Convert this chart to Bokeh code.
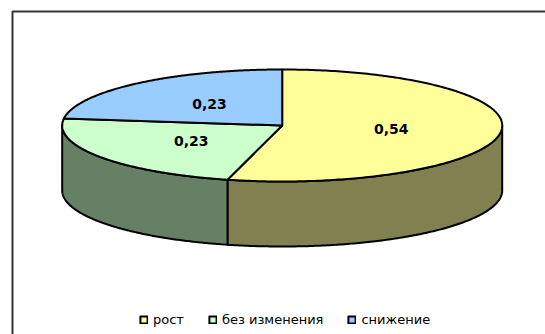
import numpy as np
from bokeh.plotting import figure
from bokeh.models import Range1d, Legend, LegendItem
from bokeh.core.properties import value
from bokeh.embed import file_html
from bokeh.resources import INLINE

# Survey shares
categories = ["рост", "без изменения", "снижение"]
shares = [0.54, 0.23, 0.23]

top_colors = ["#FFFF99", "#CCFFCC", "#99CCFF"]
side_colors = ["#808050", "#668066", "#4D6680"]

W, H = 545, 334
# 3D pie geometry (pixels, y grows downward)
CX, CY = 281.7, 125.0
RX, RY = 220.0, 56.0
DEPTH = 65.0
FONT = "DejaVu Sans"


def rim(t_deg):
    """Point on the top ellipse; angle measured clockwise from 12 o'clock."""
    t = np.radians(t_deg)
    return CX + RX * np.sin(t), CY - RY * np.cos(t)


p = figure(width=W, height=H, x_range=Range1d(0, W), y_range=Range1d(H, 0),
           output_backend="svg", toolbar_location=None, min_border=0,
           x_axis_location=None, y_axis_location=None)
p.grid.visible = False
p.outline_line_color = None
p.background_fill_color = "white"
p.border_fill_color = "white"

# chart-area frame
p.quad(left=12, right=W + 20, top=11, bottom=H + 20, fill_color=None,
       line_color="#333333", line_width=2)

total = sum(shares)
bounds = np.concatenate([[0.0], np.cumsum(shares) / total * 360.0])

# visible front walls (lower half of the cylinder)
side_xs, side_ys, side_fill = [], [], []
for i in range(len(shares)):
    a, b = max(bounds[i], 90.0), min(bounds[i + 1], 270.0)
    if b <= a:
        continue
    t = np.linspace(a, b, 160)
    x, y = rim(t)
    side_xs.append(np.concatenate([x, x[::-1]]).tolist())
    side_ys.append(np.concatenate([y, (y + DEPTH)[::-1]]).tolist())
    side_fill.append(side_colors[i])
p.patches(side_xs, side_ys, fill_color=side_fill, line_color="black",
          line_width=2, line_join="round")

# top faces
top_xs, top_ys = [], []
for i in range(len(shares)):
    t = np.linspace(bounds[i], bounds[i + 1], 240)
    x, y = rim(t)
    top_xs.append([CX] + x.tolist())
    top_ys.append([CY] + y.tolist())
top = p.patches(top_xs, top_ys, fill_color=top_colors, line_color="black",
                line_width=2, line_join="round")

# value labels at half radius on each slice
mid = np.radians((bounds[:-1] + bounds[1:]) / 2)
lx = (CX + 0.5 * RX * np.sin(mid)).tolist()
ly = (CY - 0.5 * RY * np.cos(mid)).tolist()
labels = [f"{v:.2f}".replace(".", ",") for v in shares]
p.text(lx, ly, text=labels, text_font=value(FONT), text_font_style="bold",
       text_font_size="14px", text_align="center", text_baseline="middle",
       text_color="black")

legend = Legend(
    items=[LegendItem(label=c, renderers=[top], index=i) for i, c in enumerate(categories)],
    orientation="horizontal", location=(139, 5),
    glyph_width=9, glyph_height=9, label_standoff=5, spacing=24,
    padding=0, margin=0, label_height=20,
    label_text_font=FONT, label_text_font_size="13px", label_text_color="black",
    background_fill_alpha=0, border_line_alpha=0,
)
p.add_layout(legend, "center")

open("out.html", "w").write(file_html(p, INLINE))
